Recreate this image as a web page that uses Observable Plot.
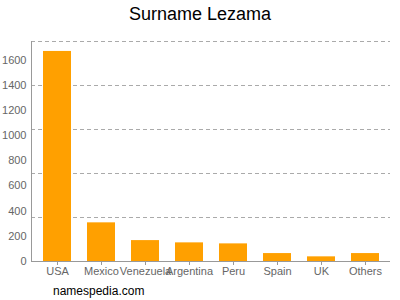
<!DOCTYPE html>
<html>
<head>
<meta charset="utf-8">
<script src="https://cdn.jsdelivr.net/npm/d3@7"></script>
<script src="https://cdn.jsdelivr.net/npm/@observablehq/plot@0.6"></script>
<style>
  html, body { margin: 0; padding: 0; background: white; width: 400px; height: 300px; overflow: hidden; }
  #title { height: 30px; line-height: 28px; text-align: center; font-family: "Liberation Sans", Arial, sans-serif; font-size: 18px; color: #000; }
  #caption { height: 19px; line-height: 21px; padding-left: 53px; font-family: "Liberation Sans", Arial, sans-serif; font-size: 12px; color: #000; }
  #chart svg { display: block; }
</style>
</head>
<body>
<div id="title">Surname Lezama</div>
<div id="chart"></div>
<div id="caption">namespedia.com</div>
<script>
const countries = ["USA", "Mexico", "Venezuela", "Argentina", "Peru", "Spain", "UK", "Others"];
const counts = [1668, 307, 166, 148, 140, 63, 37, 63];
const yTicks = [0, 200, 400, 600, 800, 1000, 1200, 1400, 1600];
const yMax = 1747;
const gridCount = 5;

const data = countries.map((c, i) => ({country: c, count: counts[i]}));
const gridValues = d3.range(1, gridCount + 1).map(i => i * yMax / gridCount);

const chart = Plot.plot({
  width: 400,
  height: 251,
  marginTop: 11,
  marginBottom: 20,
  marginLeft: 31,
  marginRight: 10,
  style: {fontFamily: "'Liberation Sans', Arial, sans-serif", fontSize: "11px", color: "#666", background: "white"},
  x: {domain: countries, paddingInner: 0.375, paddingOuter: 0.1875, label: null},
  y: {domain: [0, yMax], label: null},
  marks: [
    Plot.ruleY(gridValues, {stroke: "#aaa", strokeDasharray: "4,3"}),
    Plot.barY(data, {x: "country", y: "count", fill: "#ffa000"}),
    Plot.axisY({ticks: yTicks, tickFormat: "d", tickSize: 0, tickPadding: 5, label: null, fill: "#666"}),
    Plot.axisX({tickSize: 4, tickPadding: 2, label: null, fill: "#666", stroke: "#999"}),
    Plot.ruleY([0], {stroke: "#999"}),
    Plot.frame({anchor: "left", stroke: "#999"})
  ]
});
document.getElementById("chart").appendChild(chart);
</script>
</body>
</html>
